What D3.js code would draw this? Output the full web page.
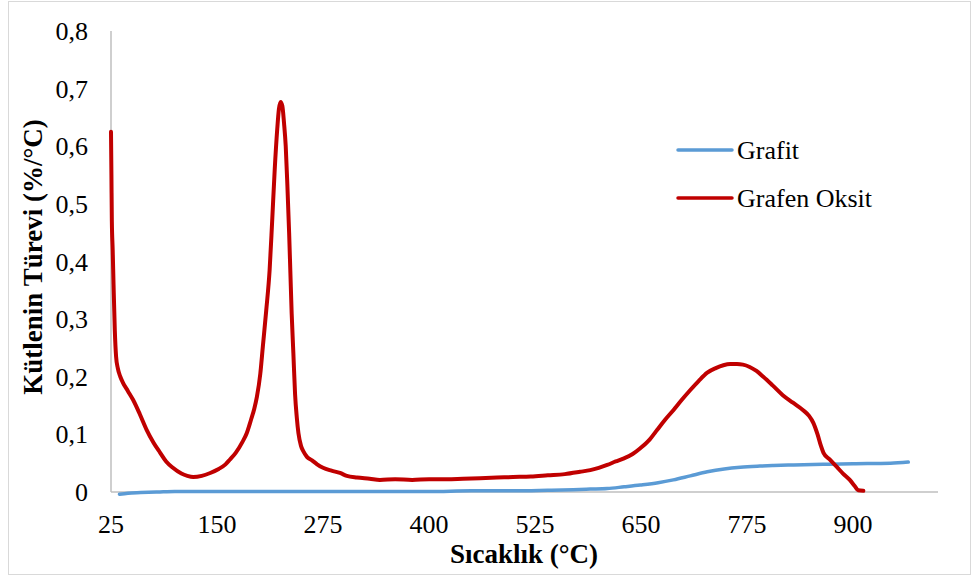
<!DOCTYPE html>
<html>
<head>
<meta charset="utf-8">
<script src="https://cdn.jsdelivr.net/npm/d3@7"></script>
</head>
<body style="margin:0">
<div id="chart"></div>
<script>
let width = 973, height = 577;
let fontFam = "'Liberation Serif'";

// x ticks (°C) and y ticks
let xTicks = [25, 150, 275, 400, 525, 650, 775, 900];
let yTicks = [0, 0.1, 0.2, 0.3, 0.4, 0.5, 0.6, 0.7, 0.8];

// Grafit series
let grafitT = [35, 45, 60, 80, 100, 150, 200, 300, 400, 450, 500, 540, 570, 590, 610, 630, 649, 670, 688, 708, 728, 748, 767, 790, 806, 830, 865, 900, 944, 965];
let grafitV = [-0.004, -0.002, -0.001, 0.0, 0.001, 0.001, 0.001, 0.001, 0.001, 0.002, 0.002, 0.003, 0.004, 0.005, 0.006, 0.009, 0.012, 0.016, 0.021, 0.028, 0.035, 0.040, 0.043, 0.045, 0.046, 0.047, 0.048, 0.049, 0.050, 0.052];

// Grafen Oksit series
let goT = [25, 25.5, 26, 27, 28, 29.5, 31, 33, 36, 39, 45, 51, 59, 67, 75, 83, 90, 98, 108, 115, 122, 132, 142, 152, 160, 165, 172, 180, 185, 190, 194, 197, 201, 204, 208, 212, 215, 218, 221, 223, 225, 227, 229, 231, 233, 235, 236.5, 238, 240, 242, 244, 246, 249, 252, 256, 262, 268, 275, 285, 295, 303, 315, 330, 342, 360, 380, 400, 421, 440, 460, 480, 499, 520, 540, 560, 578, 590, 600, 610, 620, 629, 640, 649, 660, 669, 678, 688, 698, 708, 718, 728, 738, 747, 755, 763, 770, 778, 786, 794, 805, 817, 829, 841, 848, 853, 858, 862, 865, 872, 881, 888, 896, 902, 906, 912];
let goV = [0.625, 0.55, 0.47, 0.42, 0.36, 0.28, 0.235, 0.215, 0.2, 0.19, 0.175, 0.16, 0.135, 0.108, 0.086, 0.068, 0.053, 0.042, 0.032, 0.028, 0.026, 0.028, 0.033, 0.04, 0.048, 0.056, 0.068, 0.087, 0.102, 0.125, 0.145, 0.165, 0.205, 0.252, 0.315, 0.385, 0.47, 0.559, 0.63, 0.665, 0.677, 0.67, 0.64, 0.6, 0.53, 0.45, 0.38, 0.31, 0.241, 0.17, 0.13, 0.102, 0.08, 0.07, 0.061, 0.055, 0.048, 0.042, 0.037, 0.033, 0.028, 0.025, 0.023, 0.021, 0.022, 0.021, 0.022, 0.022, 0.023, 0.024, 0.025, 0.026, 0.027, 0.029, 0.031, 0.035, 0.038, 0.042, 0.047, 0.053, 0.058, 0.066, 0.076, 0.091, 0.108, 0.125, 0.142, 0.16, 0.177, 0.193, 0.207, 0.215, 0.220, 0.222, 0.222, 0.221, 0.217, 0.21, 0.2, 0.185, 0.168, 0.155, 0.142, 0.132, 0.12, 0.1, 0.08, 0.068, 0.057, 0.043, 0.032, 0.021, 0.01, 0.003, 0.002];

let seriesNames = ["Grafit", "Grafen Oksit"];
let seriesColors = ["#5B9BD5", "#C00000"];

let svg = d3.select("#chart")
    .append("svg")
    .attr("width", width)
    .attr("height", height);

// outer chart border
svg.append("rect")
    .attr("x", 8.5).attr("y", 1.5)
    .attr("width", 962).attr("height", 573)
    .attr("fill", "none")
    .attr("stroke", "#D9D9D9")
    .attr("stroke-width", 1);

let x = d3.scaleLinear().domain([25, 1000]).range([111, 938]);
let y = d3.scaleLinear().domain([0, 0.8]).range([492, 31]);

// axes lines
svg.append("line")
    .attr("x1", x(25)).attr("x2", x(25))
    .attr("y1", y(0.8)).attr("y2", y(0))
    .attr("stroke", "#BFBFBF").attr("stroke-width", 1.5);
svg.append("line")
    .attr("x1", x(25)).attr("x2", x(1000))
    .attr("y1", y(0)).attr("y2", y(0))
    .attr("stroke", "#BFBFBF").attr("stroke-width", 1.5);

// y tick labels
svg.selectAll(".ytick")
    .data(yTicks)
    .enter()
    .append("text")
    .attr("class", "ytick")
    .attr("x", 88)
    .attr("y", d => y(d) + 9)
    .attr("text-anchor", "end")
    .style("font-family", fontFam)
    .style("font-size", "26px")
    .text(d => d === 0 ? "0" : d3.format(".1f")(d).replace(".", ","));

// x tick labels
let xLab = d3.scaleLinear().domain([25, 900]).range([111, 853]);
svg.selectAll(".xtick")
    .data(xTicks)
    .enter()
    .append("text")
    .attr("class", "xtick")
    .attr("x", d => xLab(d))
    .attr("y", 533)
    .attr("text-anchor", "middle")
    .style("font-family", fontFam)
    .style("font-size", "26px")
    .text(d => d);

// axis titles
svg.append("text")
    .attr("x", 524)
    .attr("y", 563)
    .attr("text-anchor", "middle")
    .style("font-family", fontFam)
    .style("font-size", "27px")
    .style("font-weight", "bold")
    .text("Sıcaklık (°C)");

svg.append("text")
    .attr("transform", "translate(42,257) rotate(-90)")
    .attr("text-anchor", "middle")
    .style("font-family", fontFam)
    .style("font-size", "27px")
    .style("font-weight", "bold")
    .text("Kütlenin Türevi (%/°C)");

let line = d3.line()
    .x(d => x(d[0]))
    .y(d => y(d[1]))
    .curve(d3.curveMonotoneX);

let grafitData = grafitT.map((t, i) => [t, grafitV[i]]);
let goData = goT.map((t, i) => [t, goV[i]]);

svg.append("path")
    .datum(grafitData)
    .attr("d", line)
    .attr("fill", "none")
    .attr("stroke", seriesColors[0])
    .attr("stroke-width", 3.5)
    .attr("stroke-linecap", "round")
    .attr("stroke-linejoin", "round");

svg.append("path")
    .datum(goData)
    .attr("d", line)
    .attr("fill", "none")
    .attr("stroke", seriesColors[1])
    .attr("stroke-width", 4)
    .attr("stroke-linecap", "round")
    .attr("stroke-linejoin", "round");

// legend
let legend = svg.selectAll(".legend")
    .data(seriesNames)
    .enter()
    .append("g")
    .attr("class", "legend")
    .attr("transform", (d, i) => "translate(678," + (150 + i * 48) + ")");

legend.append("line")
    .attr("x1", 0).attr("x2", 54)
    .attr("y1", 0).attr("y2", 0)
    .attr("stroke", (d, i) => seriesColors[i])
    .attr("stroke-width", 3.5)
    .attr("stroke-linecap", "round");

legend.append("text")
    .attr("x", 59)
    .attr("y", 9)
    .style("font-family", fontFam)
    .style("font-size", "26px")
    .text(d => d);
</script>
</body>
</html>
